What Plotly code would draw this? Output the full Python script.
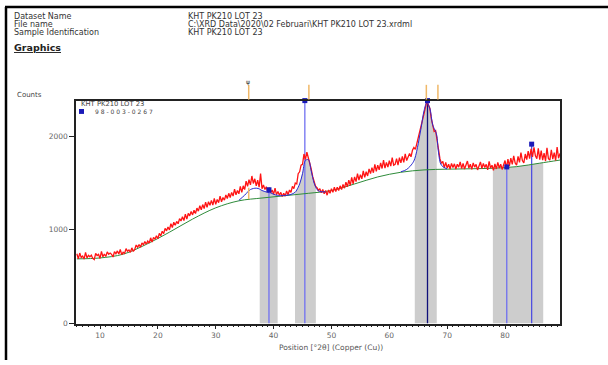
import plotly.graph_objects as go

# ---------------- data ----------------
start_deg = 6.0
step_deg = 0.25
counts = [
    745, 690, 752, 705, 720, 688, 760, 700, 728, 712, 730, 695, 682, 748, 725, 738, 695, 770, 712, 742,
    715, 765, 740, 752, 738, 710, 768, 745, 775, 742, 790, 735, 760, 748, 800, 772, 785, 760, 808, 770,
    790, 838, 815, 842, 815, 860, 840, 875, 848, 880, 858, 915, 870, 920, 900, 938, 905, 962, 935, 985,
    960, 1015, 990, 1030, 1000, 1065, 1025, 1082, 1050, 1090, 1065, 1120, 1095, 1140, 1100, 1168, 1115, 1175, 1150, 1195,
    1160, 1210, 1175, 1232, 1200, 1258, 1215, 1270, 1228, 1295, 1240, 1300, 1262, 1315, 1265, 1335, 1272, 1325, 1290, 1360,
    1300, 1345, 1318, 1372, 1335, 1390, 1345, 1400, 1360, 1435, 1375, 1420, 1385, 1465, 1400, 1470, 1430, 1520, 1465, 1535,
    1480, 1575, 1495, 1545, 1470, 1530, 1455, 1600, 1440, 1480, 1430, 1460, 1400, 1450, 1395, 1425, 1380, 1445, 1375, 1410,
    1370, 1400, 1355, 1390, 1360, 1415, 1375, 1425, 1400, 1465, 1440, 1500, 1490, 1600, 1620, 1690, 1700, 1810, 1750, 1830,
    1770, 1720, 1650, 1570, 1520, 1465, 1450, 1420, 1440, 1395, 1430, 1385, 1420, 1370, 1425, 1390, 1440, 1400, 1455, 1410,
    1455, 1420, 1470, 1430, 1485, 1445, 1510, 1460, 1530, 1475, 1560, 1490, 1565, 1515, 1600, 1530, 1590, 1545, 1630, 1560,
    1620, 1575, 1650, 1600, 1665, 1610, 1700, 1625, 1690, 1640, 1715, 1655, 1745, 1660, 1720, 1670, 1740, 1680, 1770, 1690,
    1700, 1760, 1690, 1770, 1715, 1785, 1720, 1810, 1740, 1790, 1815, 1780, 1850, 1880, 1860, 1920, 1980, 2030, 2100, 2170,
    2240, 2310, 2380, 2330, 2300, 2190, 2130, 2050, 2060, 1970, 1840, 1760, 1710, 1730, 1665, 1720, 1660, 1700, 1650, 1710,
    1665, 1705, 1650, 1700, 1670, 1725, 1655, 1710, 1650, 1690, 1735, 1660, 1700, 1645, 1715, 1670, 1700, 1640, 1690, 1725,
    1655, 1710, 1665, 1700, 1640, 1730, 1660, 1690, 1635, 1705, 1650, 1720, 1660, 1700, 1645, 1690, 1740, 1660, 1755, 1680,
    1765, 1700, 1790, 1715, 1690, 1785, 1720, 1825, 1740, 1715, 1810, 1750, 1840, 1760, 1865, 1780, 1880, 1790, 1760, 1870,
    1750, 1845, 1745, 1820, 1735, 1875, 1760, 1745, 1855, 1755, 1825, 1740, 1885, 1765, 1815, 1750,
]
positions = [start_deg + step_deg * i for i in range(len(counts))]

bg_x = [6, 10, 14, 18, 22, 26, 30, 34, 38, 42, 46, 50, 54, 58, 62, 66, 70, 74, 78, 82, 86, 89.5]
bg_y = [690, 700, 740, 845, 975, 1115, 1235, 1310, 1340, 1365, 1390, 1420, 1490, 1565, 1615, 1640,
        1648, 1652, 1658, 1675, 1712, 1745]

fit_x = [6, 10, 14, 18, 22, 26, 30, 34, 35, 36, 37, 37.6, 38, 39, 39.5, 40, 40.7, 41, 42, 43, 43.7,
         44, 44.5, 45, 45.5, 46, 46.5, 47, 47.3, 47.5, 48, 49, 50, 52, 54, 56, 58, 60, 62, 63, 64, 64.4,
         65, 65.5, 66, 66.5, 67, 67.5, 68, 68.2, 68.5, 69, 70, 72, 74, 76, 77.9, 80, 82, 84, 86, 86.6, 88, 89.5]
fit_y = [690, 700, 740, 845, 975, 1115, 1235, 1315, 1370, 1430, 1445, 1435, 1420, 1400, 1395, 1380, 1368,
         1365, 1368, 1378, 1400, 1425, 1490, 1600, 1740, 1750, 1630, 1500, 1455, 1430, 1410, 1405, 1420,
         1450, 1490, 1530, 1570, 1600, 1620, 1645, 1710, 1760, 1920, 2090, 2270, 2360, 2300, 2120, 2050,
         2010, 1830, 1690, 1650, 1650, 1652, 1655, 1658, 1660, 1675, 1695, 1715, 1720, 1735, 1745]

bands = [(37.6, 40.7), (43.7, 47.3), (64.4, 68.2), (77.9, 86.6)]
fit_regions = [(34, 49), (62, 70)]

ref_pos = [39.2, 45.4, 66.6, 80.3, 84.6]
ref_int = [1428, 2380, 2380, 1672, 1915]
ref_col = ["#7070f0", "#7070f0", "#10107a", "#7070f0", "#5050e0"]

top_ticks = [35.7, 46.1, 66.4, 68.4]

x_ticks = [10, 20, 30, 40, 50, 60, 70, 80]
y_ticks = [0, 1000, 2000]

# ---------------- figure ----------------
W, H = 608, 365
FONT = "DejaVu Sans, Verdana, sans-serif"
def px(x):
    return x / W
def py(y):
    return 1 - y / H

fig = go.Figure()

# grey bands under fit
for lo, hi in bands:
    bx = [x for x in fit_x if lo <= x <= hi]
    by = [y for x, y in zip(fit_x, fit_y) if lo <= x <= hi]
    fig.add_trace(go.Scatter(x=bx, y=by, mode="lines", fill="tozeroy",
                             fillcolor="#cdcdcd", line=dict(width=0, color="#cdcdcd"),
                             hoverinfo="skip", showlegend=False))

# reference sticks
for p, h, c in zip(ref_pos, ref_int, ref_col):
    fig.add_trace(go.Scatter(x=[p, p], y=[0, h], mode="lines",
                             line=dict(color=c, width=1.3), showlegend=False,
                             hoverinfo="skip"))

# background
fig.add_trace(go.Scatter(x=bg_x, y=bg_y, mode="lines", line=dict(color="#2e8b3a", width=1, shape="spline"),
                         showlegend=False, hoverinfo="skip"))
# data
fig.add_trace(go.Scatter(x=positions, y=counts, mode="lines",
                         line=dict(color="#ff1414", width=1.3), showlegend=False))
# fit profile (visible near peaks)
for lo, hi in fit_regions:
    fx = [x for x in fit_x if lo <= x <= hi]
    fy = [y for x, y in zip(fit_x, fit_y) if lo <= x <= hi]
    fig.add_trace(go.Scatter(x=fx, y=fy, mode="lines", line=dict(color="#2a2ad0", width=1, shape="spline"),
                             showlegend=False, hoverinfo="skip"))

# stick markers
fig.add_trace(go.Scatter(x=ref_pos, y=ref_int, mode="markers",
                         marker=dict(symbol="square", size=5, color="#1a1ab8"),
                         showlegend=False, cliponaxis=False))

# small orange segment on the curve
fig.add_trace(go.Scatter(x=[top_ticks[0], top_ticks[0]], y=[1330, 1450], mode="lines",
                         line=dict(color="#f0b868", width=1.5), showlegend=False, hoverinfo="skip"))

x0, x1 = 76, 560
y0, y1 = 102, 328
fig.update_layout(
    width=W, height=H,
    margin=dict(l=0, r=0, t=0, b=0),
    paper_bgcolor="white", plot_bgcolor="white",
    font=dict(family=FONT, color="#333"),
    xaxis=dict(domain=[px(x0), px(x1)], range=[5.85, 89.5], tickmode="array",
               tickvals=x_ticks, ticktext=[str(v) for v in x_ticks],
               ticks="outside", ticklen=4, tickcolor="#222", tickwidth=1,
               minor=dict(ticks="outside", dtick=1, ticklen=2, tickcolor="#222"),
               showline=True, linecolor="#222", linewidth=1.5, mirror=True,
               showgrid=False, zeroline=False,
               tickfont=dict(size=7.5, color="#666")),
    yaxis=dict(domain=[py(y1), py(y0)], range=[0, 2380], tickmode="array",
               tickvals=y_ticks, ticktext=[str(v) for v in y_ticks],
               ticks="outside", ticklen=5, tickcolor="#222",
               showline=True, linecolor="#222", linewidth=1.5, mirror=True,
               showgrid=False, zeroline=False,
               tickfont=dict(size=7.5, color="#666")),
)

ann = []
def txt(x, y, s, size=8, color="#333", xanchor="left", bold=False):
    ann.append(dict(x=px(x), y=py(y), xref="paper", yref="paper",
                    text=("<b>%s</b>" % s if bold else s),
                    showarrow=False, xanchor=xanchor, yanchor="middle",
                    font=dict(size=size, color=color, family=FONT)))

txt(12, 16.5, "Dataset Name", 8)
txt(12, 24.5, "File name", 8)
txt(12, 32.5, "Sample Identification", 8)
txt(186, 16.5, "KHT PK210 LOT 23", 8)
txt(186, 24.5, "C:\\XRD Data\\2020\\02 Februari\\KHT PK210 LOT 23.xrdml", 8)
txt(186, 32.5, "KHT PK210 LOT 23", 8)
txt(12, 48.5, "<u>Graphics</u>", 9.5, "#222", bold=True)
txt(15, 96, "Counts", 7, "#444")
txt(79, 105, "KHT PK210 LOT 23", 6.8, "#444")
txt(93, 113.5, "9 8 - 0 0 3 - 0 2 6 7", 6, "#444")
txt(331, 352, "Position [°2θ] (Copper (Cu))", 7.5, "#555", xanchor="center")
txt(248, 83, "ψ", 6, "#222", xanchor="center")
fig.update_layout(annotations=ann)

shapes = [
    dict(type="line", xref="paper", yref="paper", x0=px(5), x1=1, y0=py(7), y1=py(7),
         line=dict(color="black", width=2.5)),
    dict(type="line", xref="paper", yref="paper", x0=px(6), x1=px(6), y0=py(7), y1=0,
         line=dict(color="black", width=2.5)),
    dict(type="rect", xref="paper", yref="paper", x0=px(79), x1=px(84), y0=py(115.5), y1=py(110.5),
         fillcolor="#1a1ab8", line=dict(width=0)),
]
# orange reference ticks above the plot frame
for p in top_ticks:
    shapes.append(dict(type="line", xref="x", yref="paper", x0=p, x1=p,
                       y0=py(101), y1=py(86), line=dict(color="#f0b868", width=1.5)))
fig.update_layout(shapes=shapes)

fig.write_html("out.html", config={"displayModeBar": False},
               post_script="document.body.style.margin='0';")
